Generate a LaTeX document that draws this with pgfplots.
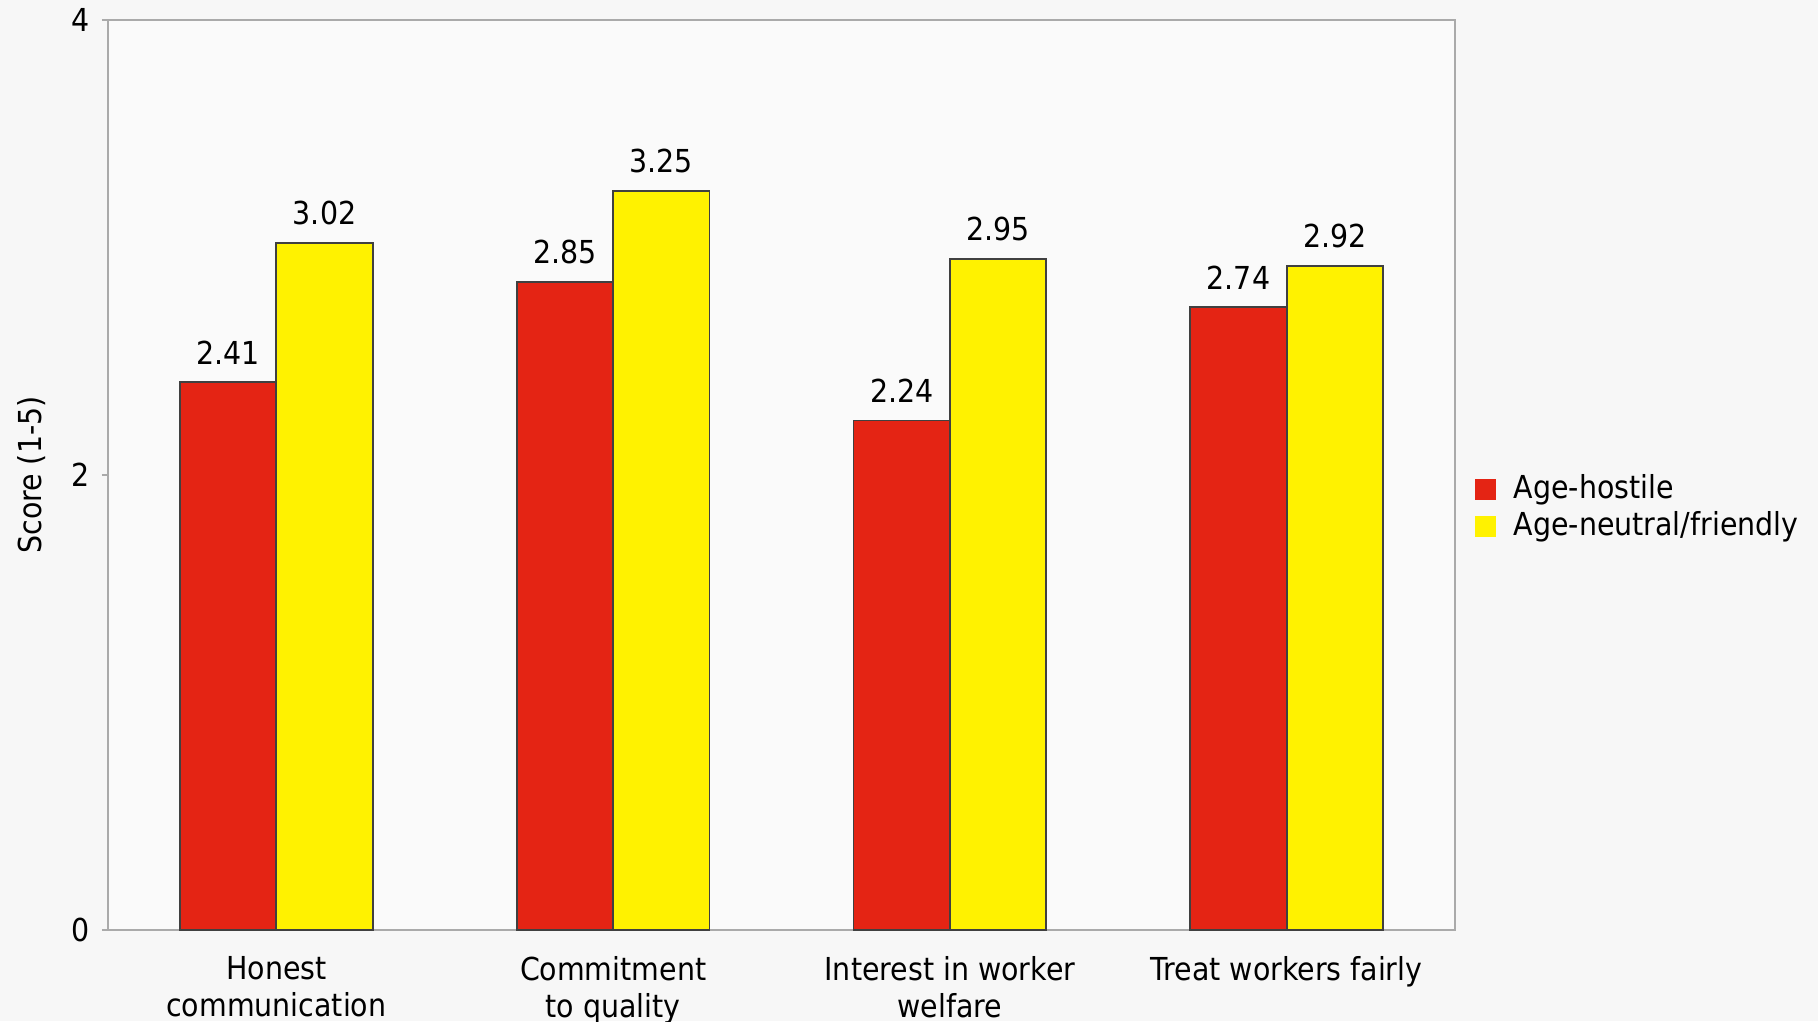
\documentclass[border=0pt]{standalone}
\usepackage{pgfplots}
\pgfplotsset{compat=1.18}
\usepackage{fontspec}
\setmainfont{DejaVu Sans Condensed}
\definecolor{hostile}{RGB}{228,36,20}
\definecolor{friendly}{RGB}{255,242,0}
\definecolor{axisgray}{RGB}{170,170,170}
\definecolor{pagebg}{RGB}{247,247,247}
\definecolor{plotbg}{RGB}{250,250,250}

\begin{document}
\begin{tikzpicture}[font=\fontsize{9}{10.5}\selectfont]
\fill[pagebg, use as bounding box] (-10.8mm,-9.1mm) rectangle (171mm,93mm);
\begin{axis}[
  scale only axis, width=134.7mm, height=91mm,
  at={(0,0)}, anchor=south west,
  axis background/.style={fill=plotbg},
  xmin=-0.5, xmax=3.5, ymin=0, ymax=4,
  axis line style={axisgray, line width=0.8pt},
  /pgf/number format/assume math mode=true,
  ybar=0pt, bar width=0.286,
  ytick={0,2,4},
  ytick pos=left,
  ytick style={axisgray, line width=0.6pt},
  major tick length=0.6mm,
  tick align=outside,
  yticklabel style={xshift=0mm},
  xtick={0,1,2,3},
  xtick pos=bottom,
  xtick style={draw=none},
  minor xtick={-0.5,0.5,1.5,2.5,3.5},
  minor tick length=0.6mm,
  minor x tick style={axisgray, line width=0.6pt},
  xticklabels={{Honest\\communication},{Commitment\\to quality},{Interest in worker\\welfare},{Treat workers fairly}},
  xticklabel style={align=center, yshift=-0.8mm},
  ylabel={Score (1-5)},
  every axis y label/.style={at={(axis description cs:-0.057,0.5)}, rotate=90, anchor=center},
  nodes near coords={\pgfmathprintnumber[fixed,fixed zerofill,precision=2]{\pgfplotspointmeta}},
  every node near coord/.append style={anchor=south, yshift=0.5mm, text=black},
  legend style={at={(1.013,0.464)}, anchor=west, draw=none, fill=none,
    row sep=-0.6mm, cells={anchor=west}, inner sep=0pt},
  legend image code/.code={%
    \fill[#1,draw=none] (0.2mm,-1.05mm) rectangle (2.3mm,1.05mm);
    \path[draw=none,fill=none] (0,0) rectangle (3.35mm,0.01mm);},
]
\addplot[fill=hostile, draw=black!75, line width=0.5pt]
  coordinates {(0,2.41) (1,2.85) (2,2.24) (3,2.74)};
\addlegendentry{Age-hostile}
\addplot[fill=friendly, draw=black!75, line width=0.5pt]
  coordinates {(0,3.02) (1,3.25) (2,2.95) (3,2.92)};
\addlegendentry{Age-neutral/friendly}
\end{axis}
\end{tikzpicture}
\end{document}
